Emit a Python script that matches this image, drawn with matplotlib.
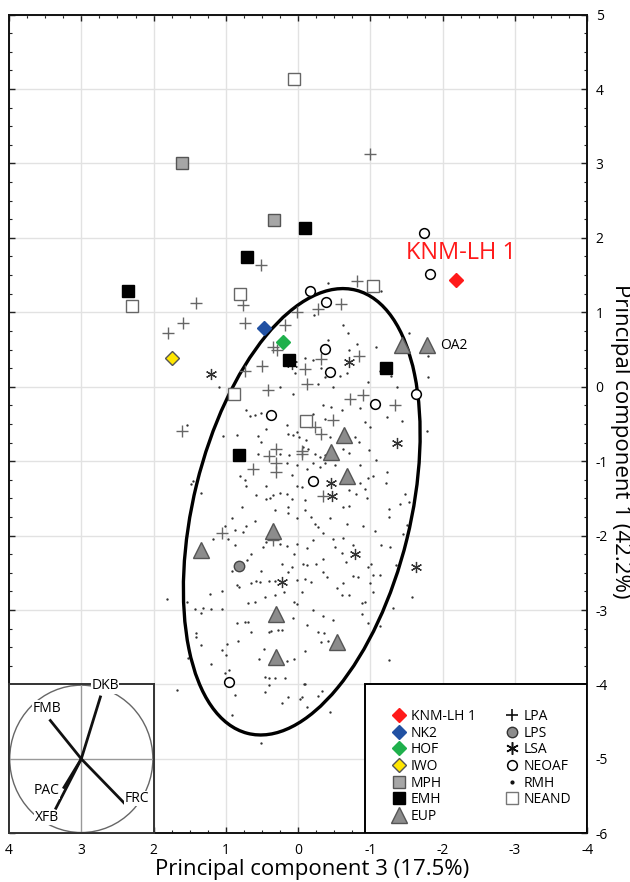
import matplotlib
matplotlib.use("Agg")
import matplotlib.pyplot as plt
from matplotlib.patches import Ellipse, Circle, Rectangle
from matplotlib.lines import Line2D
from matplotlib.ticker import MultipleLocator

plt.rcParams['font.family'] = ['Open Sans', 'DejaVu Sans']
plt.rcParams['axes.unicode_minus'] = False

# single specimens
knm_x, knm_y = [-2.18], [1.43]
nk2_x, nk2_y = [0.47], [0.79]
hof_x, hof_y = [0.21], [0.60]
iwo_x, iwo_y = [1.74], [0.39]

# fossil groups
mph_x = [1.61, 0.34]
mph_y = [3.00, 2.24]
emh_x = [-0.10, 0.71, 2.35, 0.13, 0.82, -1.21]
emh_y = [2.13, 1.74, 1.28, 0.36, -0.92, 0.25]
eup_x = [-1.43, -1.78, -0.64, -0.45, -0.67, 0.35, 1.35, 0.31, 0.31, -0.54]
eup_y = [0.56, 0.56, -0.65, -0.88, -1.20, -1.94, -2.20, -3.06, -3.63, -3.43]
lps_x = [0.82]
lps_y = [-2.41]
lsa_x = [1.21, 0.09, -0.71, -1.37, -0.46, -0.47, -0.79, -1.63, 0.23]
lsa_y = [0.17, 0.31, 0.33, -0.75, -1.30, -1.47, -2.25, -2.42, -2.63]
neoaf_x = [-1.74, -1.82, -0.17, -0.39, -0.37, -0.44, -1.06, -1.63, 0.38, -0.21, 0.96]
neoaf_y = [2.07, 1.51, 1.29, 1.14, 0.51, 0.20, -0.23, -0.10, -0.38, -1.26, -3.97]
neand_x = [0.06, 0.80, 2.30, -1.03, 0.89, -0.11]
neand_y = [4.14, 1.24, 1.08, 1.35, -0.10, -0.46]
lpa_x = [-0.99, 0.52, -0.82, 1.41, 0.76, 1.59, 1.80, 0.73, 0.18, 0.02, -0.27, -0.59,
         0.35, 0.29, -0.10, 0.50, 0.74, 0.42, -0.32, -0.84, -0.72, -0.90, -1.34, -0.48,
         -0.31, -0.05, -0.35, -0.24, 1.60, 0.41, 0.31, 0.30, 0.30, 0.62, -0.06, 1.06,
         0.35, -0.12]
lpa_y = [3.13, 1.63, 1.42, 1.13, 1.10, 0.85, 0.72, 0.85, 0.83, 1.01, 1.05, 1.11,
         0.53, 0.49, 0.24, 0.28, 0.21, -0.05, 0.37, 0.41, -0.17, -0.11, -0.24, -0.45,
         -0.64, -0.87, -1.47, -0.54, -0.59, -0.93, -0.84, -1.02, -1.14, -1.11, -0.90, -1.96,
         -2.06, 0.04]

# recent modern humans (RMH)
rmh = [
    (1.10, -0.01), (-0.10, 0.39), (0.05, 0.18), (0.25, 0.00), (0.07, -0.10),
    (-0.41, 1.40), (-1.14, 1.29), (-0.22, 0.96), (-0.62, 0.83), (-0.69, 0.72),
    (-0.41, 0.63), (-0.71, 0.50), (-0.81, 0.57), (-1.08, 0.53), (-1.53, 0.72),
    (-1.80, 0.41), (-0.21, 0.36), (-0.32, 0.25), (-0.37, 0.13), (-0.58, 0.15),
    (-0.67, 0.18), (-0.28, 0.04), (-0.48, 0.00), (-0.97, 0.06), (-1.13, 0.21),
    (-1.29, 0.14), (-1.37, 0.00), (-1.80, 0.13),
    (1.54, -0.52), (0.72, -0.31), (0.66, -0.39), (0.60, -0.38), (0.52, -0.35),
    (0.16, -0.52), (0.14, -0.63), (0.07, -0.65), (0.02, -0.61), (-0.01, -0.67),
    (-0.11, -0.72), (-0.07, -0.81), (-0.14, -0.83), (0.44, -0.57), (0.55, -0.66),
    (0.51, -0.74), (1.04, -0.66), (0.85, -0.65), (0.55, -0.90), (0.25, -0.90),
    (0.12, -0.92), (0.16, -1.03), (0.02, -1.05), (-0.12, -1.10), (0.09, -1.19),
    (0.81, -1.20), (0.74, -1.25), (1.45, -1.26), (1.48, -1.31), (1.34, -1.43),
    (0.72, -1.34), (0.44, -1.34), (0.58, -1.45), (0.45, -1.51), (0.39, -1.49),
    (0.35, -1.46), (0.25, -1.43), (0.16, -1.44), (0.02, -1.34), (-0.06, -1.35),
    (0.08, -1.51), (-0.09, -1.52), (0.78, -1.61), (0.32, -1.65), (0.14, -1.61),
    (0.14, -1.70), (-0.10, -1.66), (0.01, -1.76), (0.92, -1.76), (0.60, -1.80),
    (1.01, -1.87), (0.72, -1.87), (0.88, -1.93), (0.76, -1.95), (1.18, -2.04),
    (0.97, -2.05), (0.88, -2.12), (0.44, -2.08), (0.25, -2.11), (0.16, -2.14),
    (0.02, -2.11), (-0.12, -2.17), (0.49, -2.15),
    (-0.35, -0.25), (-0.46, -0.27), (-0.60, -0.31), (-0.85, -0.29), (-0.21, -0.36),
    (-0.37, -0.43), (-0.92, -0.47), (-1.23, -0.40), (-1.43, -0.46), (-1.78, -0.59),
    (-0.99, -0.54), (-0.78, -0.67), (-0.84, -0.74), (-0.44, -0.67), (-0.62, -0.83),
    (-0.70, -0.89), (-0.98, -0.85), (-0.23, -0.90), (-0.30, -0.94), (-0.37, -0.92),
    (-0.21, -1.03), (-0.30, -1.08), (-0.37, -1.03), (-0.51, -1.05), (-0.86, -1.05),
    (-1.08, -0.99), (-1.23, -1.14), (-0.97, -1.22), (-1.03, -1.20), (-1.21, -1.30),
    (-0.85, -1.30), (-0.92, -1.38), (-0.71, -1.39), (-0.80, -1.44), (-1.48, -1.44),
    (-1.41, -1.57), (-1.54, -1.55), (-0.95, -1.50), (-0.62, -1.61), (-0.70, -1.60),
    (-1.25, -1.64), (-1.25, -1.75), (-0.18, -1.75), (-0.23, -1.84), (-0.28, -1.88),
    (-0.44, -1.77), (-0.67, -1.85), (-0.90, -1.87), (-1.06, -1.94), (-1.50, -1.86),
    (-1.45, -1.98), (-0.35, -1.97), (-0.48, -2.04), (-0.62, -2.03), (-0.76, -2.13),
    (-1.15, -2.13), (-1.27, -2.15), (-0.21, -2.06), (-0.51, -2.15),
    (1.82, -2.85), (1.54, -2.89), (1.43, -2.99), (1.31, -2.97), (1.21, -2.98),
    (1.34, -3.04), (1.06, -2.98), (1.22, -2.79), (1.06, -2.74), (0.91, -2.47),
    (0.85, -2.66), (0.82, -2.69), (0.71, -2.33), (0.65, -2.25), (0.52, -2.47),
    (0.65, -2.64), (0.58, -2.61), (0.53, -2.62), (0.41, -2.61), (0.32, -2.61),
    (0.60, -2.89), (0.69, -2.91), (0.46, -2.82), (0.32, -2.80), (0.20, -2.76),
    (0.14, -2.49), (0.22, -2.38), (0.09, -2.42), (0.06, -2.25), (-0.07, -2.38),
    (-0.12, -2.40), (0.02, -2.59), (-0.09, -2.58), (-0.05, -2.76), (0.06, -2.89),
    (0.02, -2.92), (0.07, -3.11), (-0.12, -3.20), (0.84, -3.18), (0.74, -3.16),
    (0.69, -3.16), (0.65, -3.29), (1.41, -3.31), (1.41, -3.36), (1.34, -3.47),
    (0.83, -3.41), (0.99, -3.45), (1.05, -3.54), (1.00, -3.61), (1.20, -3.72),
    (1.52, -3.64), (0.41, -3.29), (0.37, -3.28), (0.28, -3.27), (0.22, -3.27),
    (0.47, -3.52), (0.54, -3.66), (0.16, -3.69), (0.06, -3.66), (-0.09, -3.55),
    (1.01, -3.85), (0.95, -3.80), (0.46, -3.90), (0.41, -3.92), (0.32, -3.92),
    (0.18, -3.92), (0.41, -4.01), (-0.08, -4.00), (0.46, -4.10), (0.14, -4.17),
    (-0.02, -4.20), (1.68, -4.08), (0.87, -4.14),
    (-0.25, -2.38), (-0.34, -2.32), (-0.61, -2.24), (-0.35, -2.49), (-0.40, -2.56),
    (-0.18, -2.62), (-0.54, -2.70), (-0.62, -2.64), (-0.66, -2.35), (-0.76, -2.54),
    (-0.83, -2.56), (-0.97, -2.42), (-1.01, -2.38), (-1.04, -2.53), (-1.13, -2.53),
    (-1.00, -2.64), (-1.03, -2.76), (-0.61, -2.80), (-0.71, -2.80), (-0.89, -2.90),
    (-0.92, -2.89), (-1.35, -2.40), (-1.58, -2.82), (-1.31, -2.97), (-0.89, -3.05),
    (-0.21, -3.00), (-0.34, -3.08), (-0.48, -3.13), (-0.97, -3.18), (-1.13, -3.22),
    (-0.28, -3.29), (-0.36, -3.31), (-0.31, -3.43), (-0.41, -3.41), (-1.25, -3.67),
    (-0.33, -4.09), (-0.28, -4.15),
    (-0.09, -3.99), (-0.44, -4.37), (0.92, -4.41), (0.51, -4.79), (0.23, -4.25),
    (-0.06, -4.17), (-0.12, -4.30),
]
rmh_x = [p[0] for p in rmh]
rmh_y = [p[1] for p in rmh]

# 95% ellipse of RMH (centre, full width/height, angle in degrees)
ell_center = (-0.05, -1.68)
ell_width, ell_height, ell_angle = 3.0, 6.14, 14.2

# loadings for the small biplot
load_names = ["DKB", "FMB", "FRC", "XFB", "PAC"]
load_x = [0.27, -0.44, 0.61, -0.36, -0.25]
load_y = [0.85, 0.53, -0.61, -0.68, -0.40]
load_lab_x = [0.33, -0.48, 0.77, -0.48, -0.48]
load_lab_y = [0.98, 0.68, -0.53, -0.79, -0.43]

fig = plt.figure(figsize=(6.3, 8.82), dpi=100)
ax = fig.add_axes([9 / 630, 48.7 / 882, 578.3 / 630, 818.7 / 882])
ax.set_xlim(4, -4)
ax.set_ylim(-6, 5)
ax.xaxis.set_major_locator(MultipleLocator(1))
ax.yaxis.set_major_locator(MultipleLocator(1))
ax.xaxis.set_minor_locator(MultipleLocator(0.25))
ax.yaxis.set_minor_locator(MultipleLocator(0.25))
ax.grid(True, which='major', color='#e2e2e2', lw=1.0, zorder=0)
ax.set_axisbelow(True)
ax.tick_params(which='both', direction='in', top=True, bottom=True, left=True, right=True,
               labelleft=False, labelright=True, labelsize=10, color='#222222')
ax.tick_params(which='major', length=4.5, width=1.0)
ax.tick_params(which='minor', length=2.5, width=0.8)
ax.tick_params(axis='x', pad=7)
ax.tick_params(axis='y', pad=6)
for s in ax.spines.values():
    s.set_linewidth(1.4)
    s.set_color('#111111')

ax.plot(rmh_x, rmh_y, ls='none', marker='o', ms=1.7, color='#333333', mew=0, zorder=2)
ax.add_patch(Ellipse(ell_center, ell_width, ell_height, angle=ell_angle, fill=False,
                     lw=2.4, color='black', zorder=3))

ax.plot(lpa_x, lpa_y, ls='none', marker='+', ms=8, mew=1.0, color='#666666', zorder=4)
ax.plot(lsa_x, lsa_y, ls='none', marker=(6, 2, 0), ms=8, mew=0.9, color='#333333', zorder=4)
ax.plot(neoaf_x, neoaf_y, ls='none', marker='o', ms=7, mfc='white', mec='black', mew=1.1, zorder=5)
ax.plot(lps_x, lps_y, ls='none', marker='o', ms=7.5, mfc='#8c8c8c', mec='#444444', mew=1.0, zorder=5)
ax.plot(neand_x, neand_y, ls='none', marker='s', ms=9, mfc='white', mec='#666666', mew=1.0, zorder=5)
ax.plot(mph_x, mph_y, ls='none', marker='s', ms=9, mfc='#a6a6a6', mec='#555555', mew=1.0, zorder=5)
ax.plot(emh_x, emh_y, ls='none', marker='s', ms=9, mfc='black', mec='black', zorder=5)
ax.plot(eup_x, eup_y, ls='none', marker='^', ms=12, mfc='#8c8c8c', mec='#555555', mew=1.0, zorder=5)
ax.plot(knm_x, knm_y, ls='none', marker='D', ms=7.5, mfc='#ff1a1a', mec='#ff1a1a', zorder=6)
ax.plot(nk2_x, nk2_y, ls='none', marker='D', ms=7.5, mfc='#2151a3', mec='#2151a3', zorder=6)
ax.plot(hof_x, hof_y, ls='none', marker='D', ms=7.5, mfc='#1fb04c', mec='#1fb04c', zorder=6)
ax.plot(iwo_x, iwo_y, ls='none', marker='D', ms=7.5, mfc='#ffe600', mec='#555555', mew=1.0, zorder=6)

ax.text(-2.25, 1.80, "KNM-LH 1", color='#ff1a1a', fontsize=17, ha='center', va='center')
ax.text(-1.96, 0.56, "OA2", fontsize=10, ha='left', va='center')

# small loadings biplot in the lower left corner
ins = ax.inset_axes([0, 0, 0.25, 2 / 11])
ins.set_xlim(-1, 1)
ins.set_ylim(-1, 1)
ins.set_xticks([])
ins.set_yticks([])
for s in ins.spines.values():
    s.set_linewidth(1.4)
    s.set_color('#333333')
ins.axhline(0, color='#999999', lw=1.0)
ins.axvline(0, color='#999999', lw=1.0)
ins.add_patch(Circle((0, 0), 0.99, fill=False, color='#666666', lw=1.0))
for nm, lx, ly, tx, ty in zip(load_names, load_x, load_y, load_lab_x, load_lab_y):
    ins.plot([0, lx], [0, ly], color='#111111', lw=2.0, solid_capstyle='butt')
    ins.text(tx, ty, nm, fontsize=10, ha='center', va='center',
             bbox=dict(fc='white', ec='none', pad=0.2))

# legend box
ax.add_patch(Rectangle((0.615, 0), 0.385, 2 / 11, transform=ax.transAxes, fc='white',
                       ec='black', lw=1.4, zorder=7))
handles = [
    Line2D([], [], ls='none', marker='D', ms=7.5, mfc='#ff1a1a', mec='#ff1a1a', label='KNM-LH 1'),
    Line2D([], [], ls='none', marker='D', ms=7.5, mfc='#2151a3', mec='#2151a3', label='NK2'),
    Line2D([], [], ls='none', marker='D', ms=7.5, mfc='#1fb04c', mec='#1fb04c', label='HOF'),
    Line2D([], [], ls='none', marker='D', ms=7.5, mfc='#ffe600', mec='#555555', label='IWO'),
    Line2D([], [], ls='none', marker='s', ms=9, mfc='#a6a6a6', mec='#555555', label='MPH'),
    Line2D([], [], ls='none', marker='s', ms=9, mfc='black', mec='black', label='EMH'),
    Line2D([], [], ls='none', marker='^', ms=11, mfc='#8c8c8c', mec='#555555', label='EUP'),
    Line2D([], [], ls='none', marker='+', ms=9, mew=1.2, color='#111111', label='LPA'),
    Line2D([], [], ls='none', marker='o', ms=7.5, mfc='#8c8c8c', mec='#333333', label='LPS'),
    Line2D([], [], ls='none', marker=(6, 2, 0), ms=9, mew=1.1, color='#111111', label='LSA'),
    Line2D([], [], ls='none', marker='o', ms=7, mfc='white', mec='black', mew=1.1, label='NEOAF'),
    Line2D([], [], ls='none', marker='o', ms=2, color='#111111', label='RMH'),
    Line2D([], [], ls='none', marker='s', ms=9, mfc='white', mec='#777777', label='NEAND'),
]
leg = ax.legend(handles=handles, ncol=2, loc='upper left', bbox_to_anchor=(0.665, 0.152),
                frameon=False, fontsize=10, handlelength=0.8, handletextpad=0.45,
                columnspacing=2.2, labelspacing=0.12, borderpad=0, borderaxespad=0)
leg.set_zorder(8)

fig.text(312 / 630, 1 - 869 / 882, "Principal component 3 (17.5%)", fontsize=16,
         ha='center', va='center')
fig.text(621 / 630, 1 - 441 / 882, "Principal component 1 (42.2%)", fontsize=16,
         ha='center', va='center', rotation=-90)

plt.savefig("out.png", dpi=100)
